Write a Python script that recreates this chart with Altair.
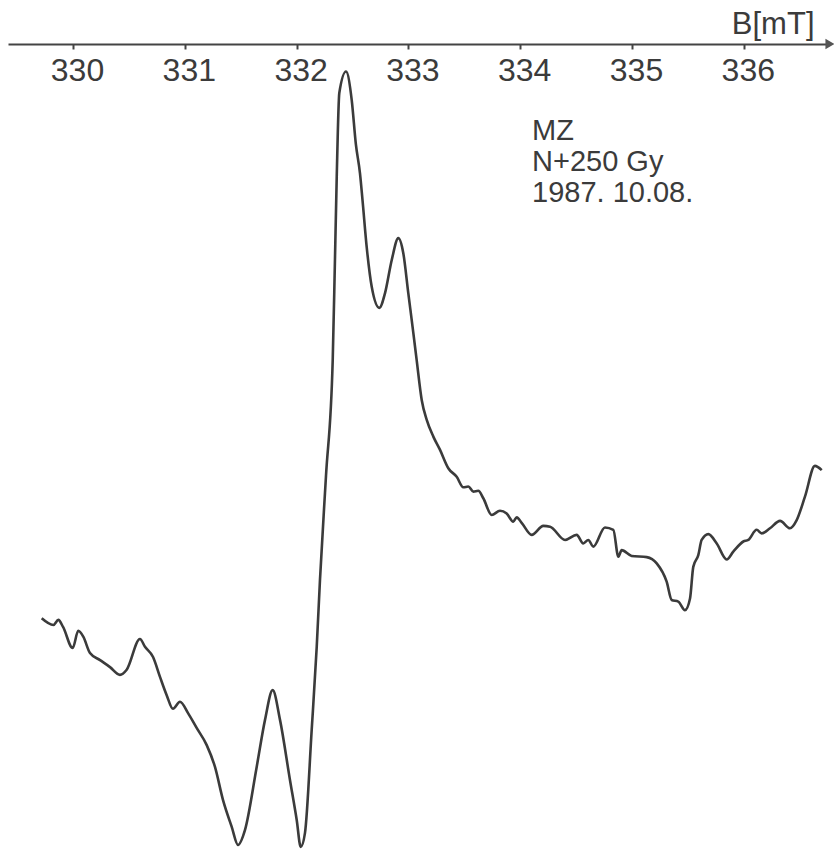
import altair as alt
import pandas as pd

# Magnetic field B [mT] and EPR signal (arbitrary units)
B_mT = [329.720, 329.824, 329.869, 329.911, 329.997, 330.047, 330.092, 330.152, 330.242, 330.331,
        330.420, 330.480, 330.599, 330.644, 330.716, 330.778, 330.838, 330.894, 330.957, 331.029,
        331.106, 331.196, 331.270, 331.342, 331.419, 331.476, 331.538, 331.643, 331.717, 331.786,
        331.852, 331.941, 332.001, 332.037, 332.075, 332.135, 332.180, 332.209, 332.263, 332.323,
        332.343, 332.359, 332.382, 332.442, 332.493, 332.530, 332.567, 332.590, 332.627, 332.672,
        332.740, 332.791, 332.851, 332.910, 332.954, 332.999, 333.044, 333.074, 333.119, 333.164,
        333.223, 333.283, 333.357, 333.432, 333.491, 333.536, 333.581, 333.625, 333.670, 333.745,
        333.819, 333.879, 333.938, 333.969, 334.013, 334.103, 334.207, 334.267, 334.401, 334.505,
        334.564, 334.609, 334.654, 334.758, 334.833, 334.878, 334.908, 334.997, 335.132, 335.221,
        335.310, 335.355, 335.414, 335.474, 335.519, 335.548, 335.593, 335.623, 335.683, 335.758,
        335.847, 335.906, 335.996, 336.040, 336.115, 336.160, 336.234, 336.324, 336.413, 336.473,
        336.547, 336.636, 336.697]
signal = [-40.6, -42.3, -41.0, -42.8, -48.2, -43.8, -45.3, -49.5, -51.3, -53.1,
          -55.1, -53.8, -45.9, -47.9, -50.5, -55.6, -60.3, -63.8, -62.0, -64.9,
          -68.7, -73.1, -78.7, -87.2, -94.0, -98.7, -94.9, -78.7, -66.7, -59.0,
          -66.7, -82.1, -92.3, -99.2, -95.6, -69.2, -47.9, -30.8, -4.0, 25.6,
          51.3, 72.6, 94.1, 99.6, 92.3, 81.0, 73.5, 66.5, 54.6, 44.4,
          39.0, 42.8, 51.3, 56.9, 53.1, 42.8, 32.6, 25.6, 15.4, 10.3,
          6.0, 2.6, -2.1, -4.3, -7.0, -6.8, -8.1, -7.9, -9.8, -14.1,
          -13.0, -13.7, -15.8, -14.7, -16.1, -19.2, -16.9, -17.1, -20.5, -19.2,
          -21.4, -20.5, -22.2, -17.3, -17.9, -24.8, -23.1, -24.6, -24.9, -26.5,
          -31.2, -35.9, -36.3, -38.5, -35.5, -27.4, -24.4, -20.5, -19.0, -21.4,
          -25.5, -23.5, -20.9, -20.5, -17.9, -18.8, -17.5, -15.6, -17.5, -15.4,
          -9.4, -1.5, -2.6]

tick_values = [330, 331, 332, 333, 334, 335, 336]
x_domain = [329.4186, 336.771]
y_domain = [-100, 106.67]

note_lines = ["MZ", "N+250 Gy", "1987. 10.08."]
note_B = [334.106, 334.106, 334.106]
note_y = [82.05, 74.1, 66.15]

INK = "#3b3b3b"
FONT = "Liberation Sans"

df = pd.DataFrame({"B": B_mT, "signal": signal})
notes = pd.DataFrame({"B": note_B, "y": note_y, "text": note_lines})

x_scale = alt.Scale(domain=x_domain, nice=False, zero=False)
y_scale = alt.Scale(domain=y_domain, nice=False, zero=False)

line = alt.Chart(df).mark_line(
    color=INK, strokeWidth=2.6, interpolate="monotone", clip=False
).encode(
    x=alt.X("B:Q", scale=x_scale, axis=alt.Axis(
        orient="bottom", offset=-806, values=tick_values, format="d",
        title="B[mT]", titleFont=FONT, titleFontSize=31, titleFontWeight="normal",
        titleColor=INK, titleAlign="right", titleBaseline="alphabetic",
        titleAnchor="start", titleX=806, titleY=-11, titleAngle=0,
        labelFont=FONT, labelFontSize=32, labelColor=INK, labelPadding=6,
        labelOffset=4, labelFlush=False, labelOverlap=False,
        domainColor="#444444", domainWidth=2, tickColor="#444444",
        tickWidth=2, tickSize=5, grid=False,
    )),
    y=alt.Y("signal:Q", scale=y_scale, axis=None),
)

arrow = alt.Chart(pd.DataFrame({"B": [x_domain[1]]})).mark_point(
    shape="triangle-right", filled=True, color="#555555", size=110, opacity=1, clip=False
).encode(
    x=alt.X("B:Q", scale=x_scale),
    y=alt.value(0),
)

text = alt.Chart(notes).mark_text(
    align="left", baseline="alphabetic", font=FONT, fontSize=29, color=INK
).encode(
    x=alt.X("B:Q", scale=x_scale),
    y=alt.Y("y:Q", scale=y_scale),
    text="text:N",
)

chart = alt.layer(line, arrow, text).properties(
    width=822, height=806,
    padding={"left": 8, "top": 44, "right": 4, "bottom": 0},
    autosize=alt.AutoSizeParams(type="none"),
    background="white",
).configure_view(stroke=None)

chart.save("out.html", embed_options={"renderer": "svg", "actions": False})
